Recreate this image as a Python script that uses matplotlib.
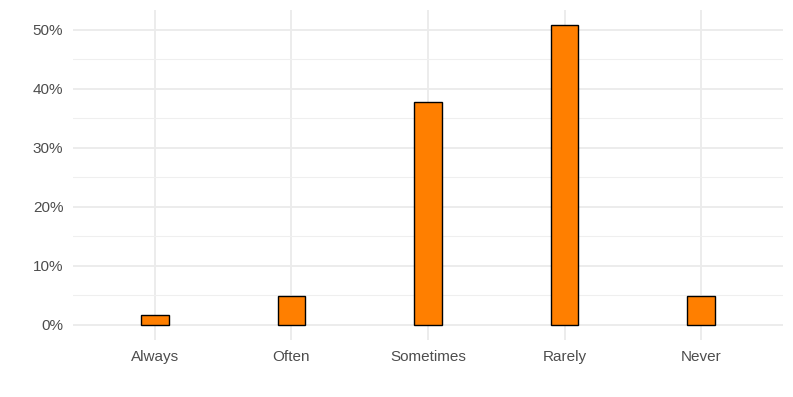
import matplotlib.pyplot as plt
import numpy as np
from matplotlib.ticker import FuncFormatter, MultipleLocator

categories = ['Always', 'Often', 'Sometimes', 'Rarely', 'Never']
shares = [1.64, 4.92, 37.70, 50.82, 4.92]

plt.rcParams['font.family'] = ['Liberation Sans', 'DejaVu Sans']

fig = plt.figure(figsize=(7.93, 3.97), dpi=100)
ax = fig.add_axes([73 / 793, 57 / 397, 710 / 793, 330 / 397])

x = np.arange(1, len(categories) + 1)
ax.bar(x, shares, width=0.2, color='#FF7F00', edgecolor='black', linewidth=1.0, zorder=3)

ax.set_xlim(0.4, 5.6)
top = max(shares) * 1.05
ax.set_ylim(-max(shares) * 0.05, top)

ax.set_xticks(x)
ax.set_xticklabels(categories)
ax.yaxis.set_major_locator(MultipleLocator(10))
ax.yaxis.set_minor_locator(MultipleLocator(5))
ax.yaxis.set_major_formatter(FuncFormatter(lambda v, p: f'{v:.0f}%'))

ax.grid(which='major', color='#EBEBEB', linewidth=1.3, zorder=0)
ax.grid(which='minor', axis='y', color='#EFEFEF', linewidth=0.8, zorder=0)
for s in ax.spines.values():
    s.set_visible(False)
ax.tick_params(which='both', length=0, labelsize=11, colors='#4D4D4D')
ax.tick_params(axis='y', pad=7)
ax.tick_params(axis='x', pad=7)

fig.savefig('out.png', dpi=100)
